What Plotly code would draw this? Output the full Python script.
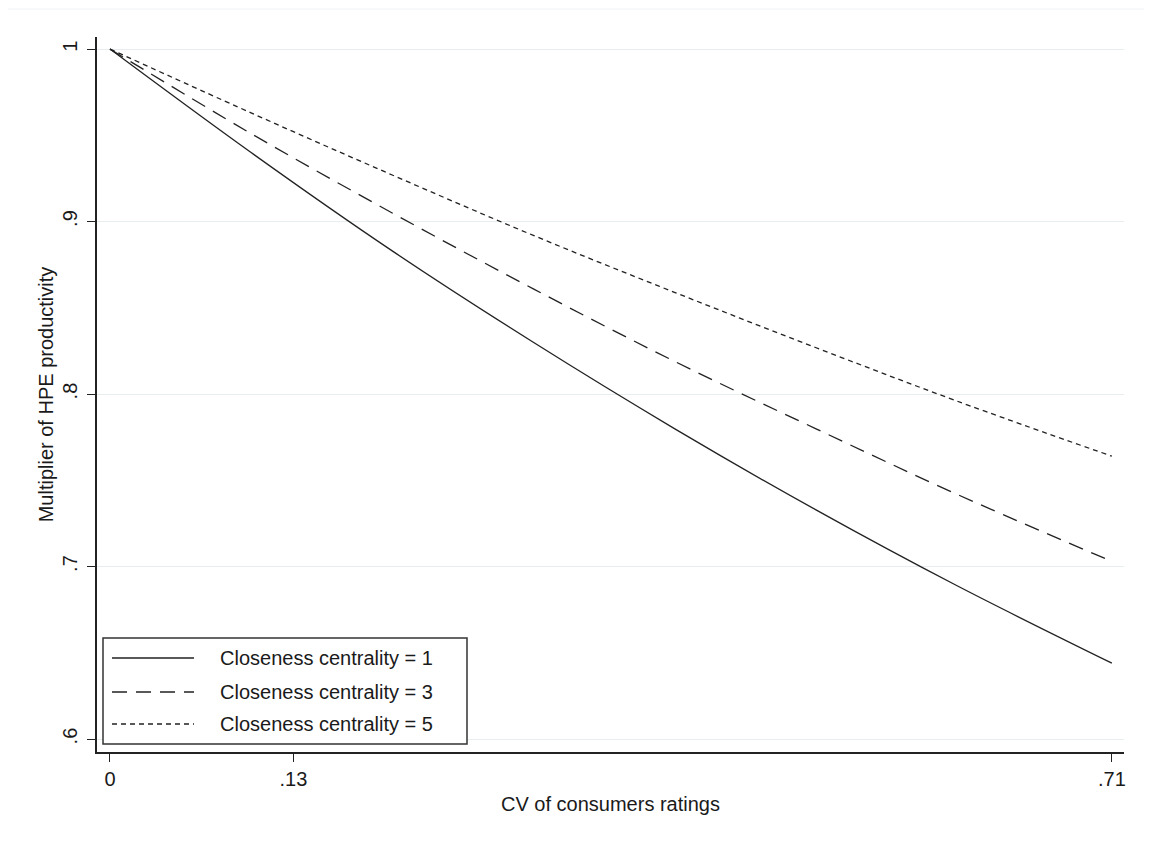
import plotly.graph_objects as go

# Values
cv = [0.0, 0.1, 0.2, 0.3, 0.4, 0.5, 0.6, 0.71]
cc1 = [1.000, 0.940, 0.883, 0.830, 0.780, 0.733, 0.689, 0.644]
cc3 = [1.000, 0.951, 0.905, 0.861, 0.819, 0.780, 0.742, 0.703]
cc5 = [1.000, 0.963, 0.927, 0.892, 0.859, 0.827, 0.796, 0.764]

series_names = ["Closeness centrality = 1", "Closeness centrality = 3", "Closeness centrality = 5"]
series_vals = [cc1, cc3, cc5]
dashes = ["solid", "15px,9px", "5px,4px"]

x_ticks = [0, 0.13, 0.71]
x_tick_text = ["0", ".13", ".71"]
y_ticks = [0.6, 0.7, 0.8, 0.9, 1.0]
y_tick_text = [".6", ".7", ".8", ".9", "1"]

FONT = "Liberation Sans, Arial, sans-serif"
TXT = "#1a1a1a"
LINE = "#222222"

PW, PH = 1027, 715  # plot area size in px

fig = go.Figure()
for name, vals, dash in zip(series_names, series_vals, dashes):
    fig.add_trace(go.Scatter(
        x=cv, y=vals, mode="lines", name=name,
        line=dict(color=LINE, width=1.3, dash=dash, shape="spline"),
        showlegend=False,
    ))

# manual legend (Stata-style long line samples)
legend_y = [94 / PH, 60 / PH, 28 / PH]
shapes = [
    dict(type="rect", xref="paper", yref="paper", x0=6 / PW, x1=370 / PW, y0=8 / PH, y1=114 / PH,
         line=dict(color="#333333", width=1.5), fillcolor="white", layer="above"),
    dict(type="line", xref="paper", yref="paper", x0=-89 / PW, x1=1 + 28 / PW,
         y0=1 + 28 / PH, y1=1 + 28 / PH, line=dict(color="#eef2f4", width=1)),
]
annotations = []
for name, dash, yy in zip(series_names, dashes, legend_y):
    shapes.append(dict(type="line", xref="paper", yref="paper", x0=15 / PW, x1=97 / PW,
                       y0=yy, y1=yy, line=dict(color=LINE, width=1.3, dash=dash), layer="above"))
    annotations.append(dict(xref="paper", yref="paper", x=121 / PW, y=yy, text=name,
                            showarrow=False, xanchor="left", yanchor="middle",
                            font=dict(family=FONT, size=20, color=TXT)))

# page body has an 8px default margin, so the figure is shrunk by 8px
fig.update_layout(
    width=1144, height=836,
    margin=dict(l=89, r=28, t=29, b=92, autoexpand=False),
    paper_bgcolor="white", plot_bgcolor="white",
    font=dict(family=FONT, size=20, color=TXT),
    shapes=shapes, annotations=annotations,
    showlegend=False,
)
fig.update_xaxes(
    range=[-0.0092, 0.7186], tickvals=x_ticks, ticktext=x_tick_text,
    showgrid=False, zeroline=False, showline=True, linecolor=LINE, linewidth=1.5,
    ticks="outside", ticklen=8, tickcolor=LINE, tickwidth=1.2,
    tickfont=dict(family=FONT, size=20, color=TXT),
    title=dict(text="CV of consumers ratings", font=dict(family=FONT, size=20, color=TXT), standoff=8),
)
fig.update_yaxes(
    range=[0.5925, 1.007], tickvals=y_ticks, ticktext=y_tick_text, tickangle=-90,
    showgrid=True, gridcolor="#e8eef0", gridwidth=1, zeroline=False,
    showline=True, linecolor=LINE, linewidth=1.5,
    ticks="outside", ticklen=8, tickcolor=LINE, tickwidth=1.2, ticklabelstandoff=2,
    tickfont=dict(family=FONT, size=20, color=TXT),
    title=dict(text="Multiplier of HPE productivity", font=dict(family=FONT, size=20, color=TXT), standoff=0),
)

fig.write_html("out.html")
